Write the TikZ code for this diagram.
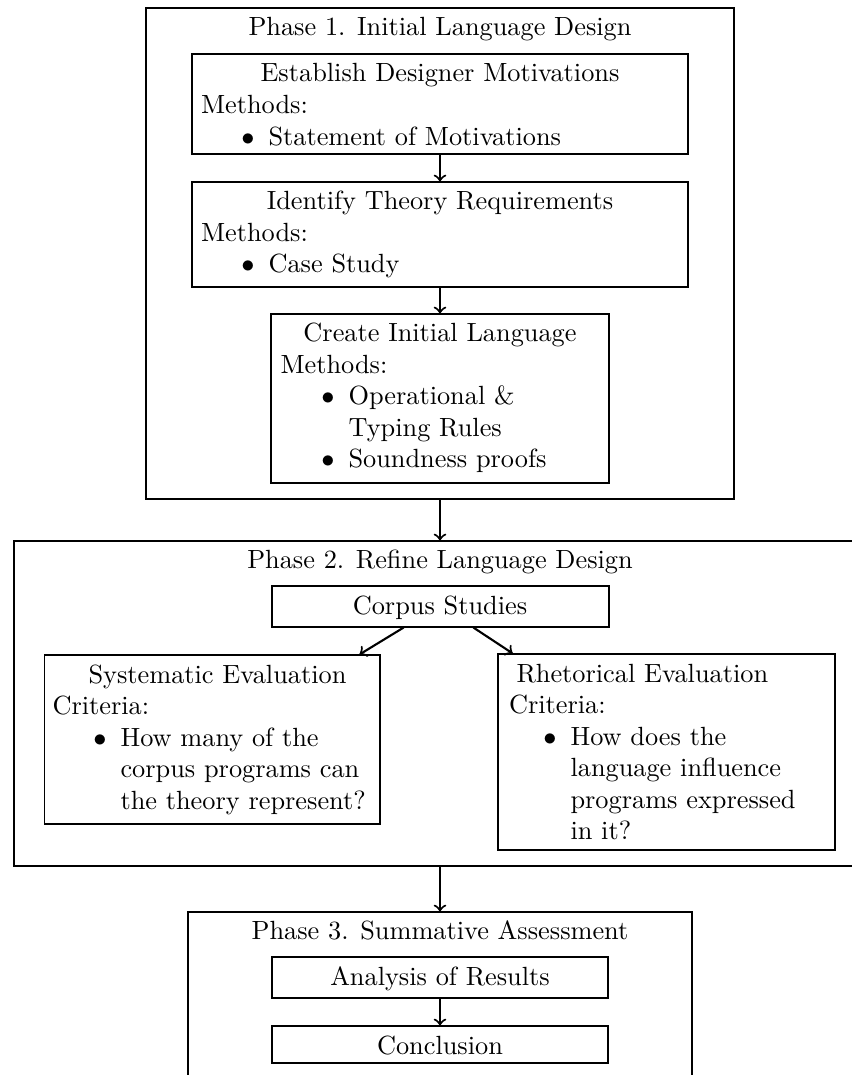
\documentclass[tikz,border=0pt]{standalone}
\usetikzlibrary{fit}
\begin{document}
\begin{tikzpicture}[x=0.38pt,y=-0.38pt,
  box/.style={draw, line width=0.4pt, inner sep=0pt},
  txt/.style={inner sep=0pt, anchor=base west},
  ttl/.style={inner sep=0pt, anchor=base},
  bul/.style={inner sep=0pt, anchor=base east},
  arr/.style={->, thick}]
\useasboundingbox (0,0) rectangle (852,1075);
\clip (0,0) rectangle (852,1075);

% ---------- Phase 1 ----------
\node[box, fit={(146,8) (734,499)}] (p1) {};
\node[ttl] (p1t) at (440,35) {Phase 1. Initial Language Design};

\node[box, fit={(192,54) (688,154)}] (a) {};
\node[ttl] (at) at (440,81.5) {Establish Designer Motivations};
\node[txt] (am) at (200.5,113.5) {Methods:};
\node[bul] (ab) at (255,145) {$\bullet$};
\node[txt] (ai) at (268,145) {Statement of Motivations};

\node[box, fit={(192,182) (688,287)}] (b) {};
\node[ttl] (bt) at (440,209) {Identify Theory Requirements};
\node[txt] (bm) at (200.5,241) {Methods:};
\node[bul] (bb) at (255,272.5) {$\bullet$};
\node[txt] (bi) at (268,272.5) {Case Study};

\node[box, fit={(271,314) (609,483)}] (c) {};
\node[ttl] (ct) at (440,341.5) {Create Initial Language};
\node[txt] (cm) at (280,373) {Methods:};
\node[bul] (cb1) at (335,404.5) {$\bullet$};
\node[txt] (ci1) at (348,404.5) {Operational \&};
\node[txt] (ci1b) at (348,436) {Typing Rules};
\node[bul] (cb2) at (335,467.5) {$\bullet$};
\node[txt] (ci2) at (348,467.5) {Soundness proofs};

\draw[arr] (a) -- (b);
\draw[arr] (b) -- (c);

% ---------- Phase 2 ----------
\node[box, fit={(14,541) (866,866)}] (p2) {};
\node[ttl] (p2t) at (440,568) {Phase 2. Refine Language Design};

\node[box, fit={(272,586) (609,627)}] (corpus) {};
\node[ttl] (cst) at (440,614) {Corpus Studies};

\node[box, fit={(44.5,655) (380,824)}] (sys) {};
\node[txt] (syst) at (88,683) {Systematic Evaluation};
\node[txt] (sysc) at (52,714.5) {Criteria:};
\node[bul] (sysb) at (107,746) {$\bullet$};
\node[txt] (sysi1) at (120,746) {How many of the};
\node[txt] (sysi2) at (120,777.5) {corpus programs can};
\node[txt] (sysi3) at (120,809) {the theory represent?};

\node[box, fit={(498,654) (835,850)}] (rhet) {};
\node[txt] (rht) at (516,682) {Rhetorical Evaluation};
\node[txt] (rhc) at (508.5,713.5) {Criteria:};
\node[bul] (rhb) at (557,745) {$\bullet$};
\node[txt] (rhi1) at (570,745) {How does the};
\node[txt] (rhi2) at (570,776.5) {language influence};
\node[txt] (rhi3) at (570,808) {programs expressed};
\node[txt] (rhi4) at (570,839.5) {in it?};

\draw[arr] ([xshift=-14pt]corpus.south) -- ([xshift=-8pt]sys.north east);
\draw[arr] ([xshift=12.5pt]corpus.south) -- ([xshift=5.8pt]rhet.north west);

% ---------- Phase 3 ----------
\node[box, fit={(188,912) (692,1090)}] (p3) {};
\node[ttl] (p3t) at (440,939) {Phase 3. Summative Assessment};

\node[box, fit={(272,957) (608,998)}] (an) {};
\node[ttl] (ant) at (440,985) {Analysis of Results};
\node[box, fit={(272,1026) (608,1063)}] (co) {};
\node[ttl] (cot) at (440,1054) {Conclusion};

\draw[arr] (an) -- (co);

% ---------- between phases ----------
\draw[arr] (p1.south) -- (p2.north);
\draw[arr] (p2.south) -- (p3.north);
\end{tikzpicture}
\end{document}
